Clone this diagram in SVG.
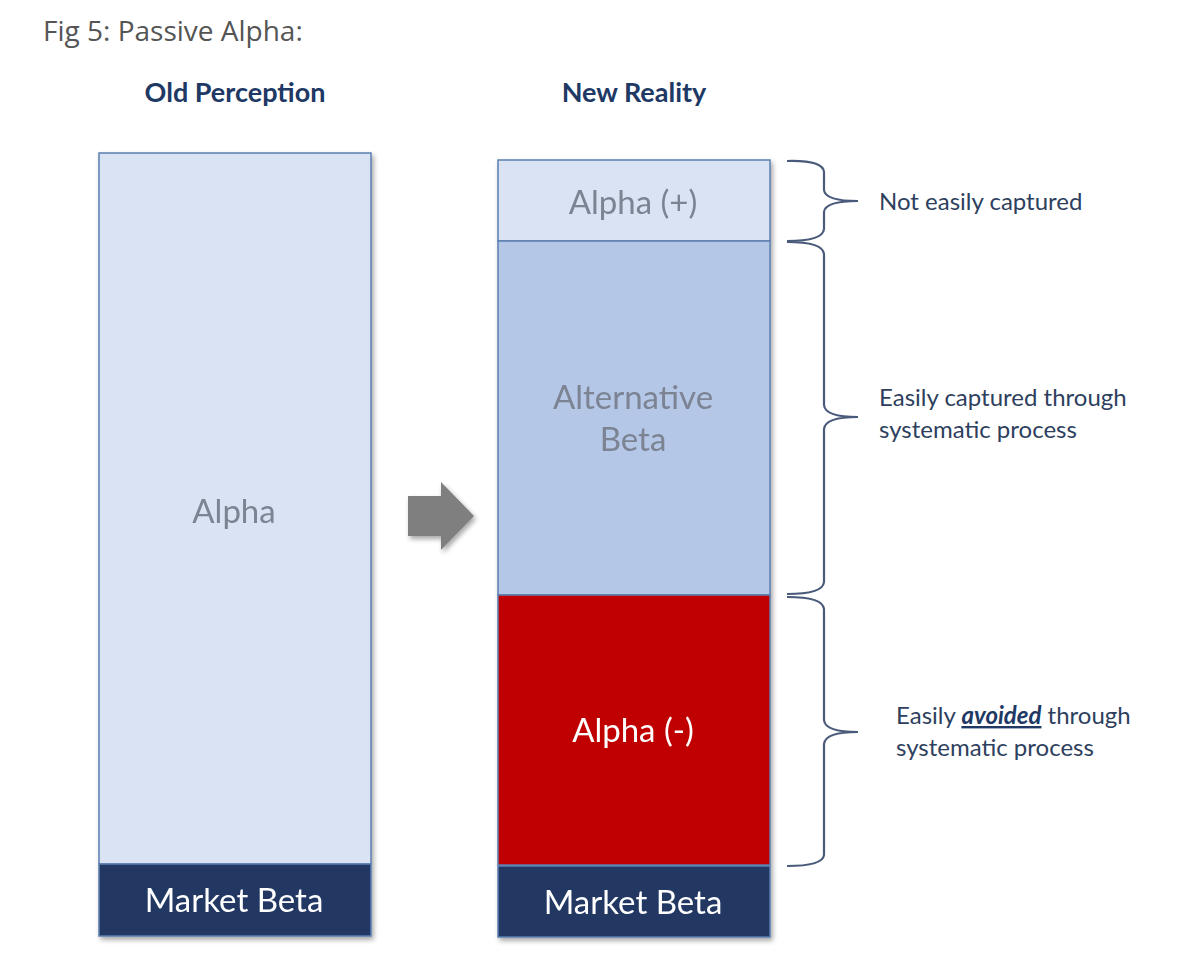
<svg xmlns="http://www.w3.org/2000/svg" width="1200" height="974" viewBox="0 0 1200 974">
<defs>
<filter id="sh" x="-10%" y="-10%" width="130%" height="130%">
<feDropShadow dx="2" dy="3" stdDeviation="2.5" flood-color="#000" flood-opacity="0.35"/>
</filter>
<style>
.box{stroke:#5b7fb0;stroke-width:1.5}
.lt{fill:#dae3f3}
.mid{fill:#b4c7e7}
.red{fill:#c00000}
.navy{fill:#203864}
.lbl{font-family:Lato,"Open Sans",sans-serif;text-anchor:middle;font-size:33px;fill:#7b8392}
.wh{fill:#ffffff}
.hd{font-family:Lato,"Open Sans",sans-serif;font-weight:bold;font-size:27px;fill:#203864;text-anchor:middle}
.note{font-family:Lato,"Open Sans",sans-serif;font-size:24px;fill:#2e3f5e}
.brace{fill:none;stroke:#4a5a7a;stroke-width:2.2}
</style>
</defs>
<rect width="1200" height="974" fill="#ffffff"/>
<text x="43" y="41" font-family="'Open Sans',sans-serif" font-size="28" fill="#555555">Fig 5: Passive Alpha:</text>
<text class="hd" x="235" y="102">Old Perception</text>
<text class="hd" x="634" y="102">New Reality</text>

<g id="old-col" filter="url(#sh)">
<g id="old-alpha">
<rect class="box lt" x="99" y="153" width="272" height="711"/>
<text class="lbl" x="234" y="523" font-size="35">Alpha</text>
</g>
<g id="old-market-beta">
<rect class="box navy" x="99" y="864" width="272" height="72"/>
<text class="lbl wh" x="234" y="912" font-size="32">Market Beta</text>
</g>
</g>

<g id="arrow" filter="url(#sh)">
<polygon points="408,496 441,496 441,482 474,516 441,550 441,536 408,536" fill="#7f7f7f"/>
</g>

<g id="new-col" filter="url(#sh)">
<g id="alpha-plus">
<rect class="box lt" x="498" y="160" width="272" height="81"/>
<text class="lbl" x="633" y="214">Alpha (+)</text>
</g>
<g id="alt-beta">
<rect class="box mid" x="498" y="241" width="272" height="354"/>
<text class="lbl" x="633" y="409">Alternative</text>
<text class="lbl" x="633" y="451">Beta</text>
</g>
<g id="alpha-minus">
<rect class="box red" x="498" y="595" width="272" height="270"/>
<text class="lbl wh" x="633" y="742">Alpha (-)</text>
</g>
<g id="new-market-beta">
<rect class="box navy" x="498" y="866" width="272" height="71"/>
<text class="lbl wh" x="633" y="914" font-size="32">Market Beta</text>
</g>
</g>

<g id="connectors">
<path class="brace" d="M787,161 Q823,160 824,172 L824,190 Q825,201 858,201 Q825,201 824,212 L824,229 Q823,241 787,241"/>
<path class="brace" d="M787,242 Q823,242 824,254 L824,405 Q825,417 858,417 Q825,417 824,429 L824,582 Q823,594 787,594"/>
<path class="brace" d="M787,597 Q823,597 824,609 L824,720 Q825,732 858,732 Q825,732 824,744 L824,855 Q823,866 787,866"/>
</g>

<g id="note1"><text class="note" x="879" y="210">Not easily captured</text></g>
<g id="note2"><text class="note" x="879" y="406">Easily captured through</text>
<text class="note" x="879" y="438">systematic process</text></g>
<g id="note3"><text class="note" x="896" y="724">Easily <tspan font-weight="bold" font-style="italic" text-decoration="underline" fill="#203864">avoided</tspan> through</text>
<text class="note" x="896" y="756">systematic process</text></g>
</svg>
